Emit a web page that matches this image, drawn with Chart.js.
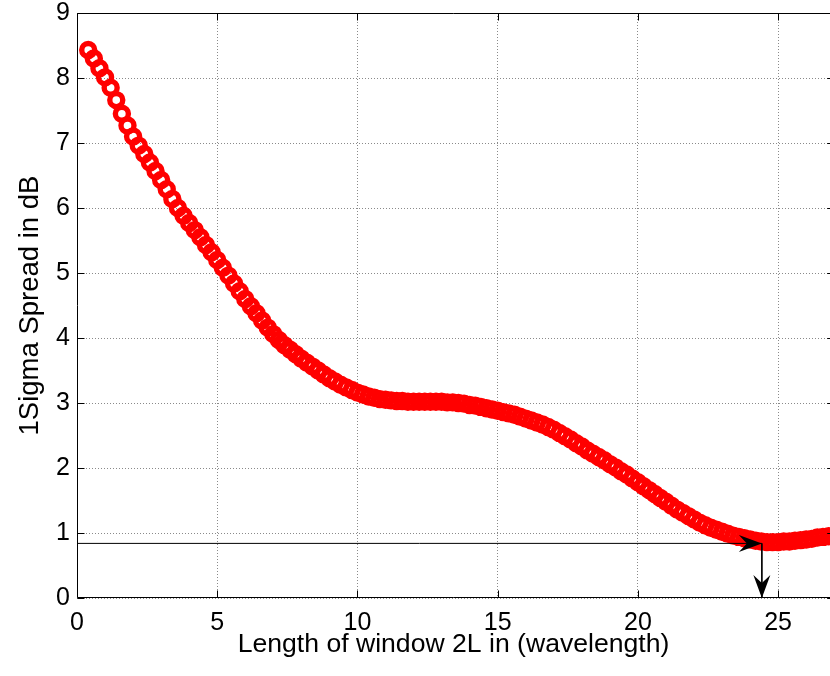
<!DOCTYPE html>
<html><head><meta charset="utf-8">
<script src="https://cdn.jsdelivr.net/npm/chart.js@4"></script>
<style>
html,body{margin:0;padding:0;background:#fff;overflow:hidden;}
canvas{display:block;}
</style></head><body>
<canvas id="c" width="830" height="676"></canvas>
<script>
// window length 2L (wavelengths)
const windowLength = [
  0.4,0.6,0.8,1.0,1.2,1.4,1.6,1.8,2.0,2.2,2.4,2.6,2.8,3.0,3.2,3.4,3.6,3.8,4.0,4.2,
  4.4,4.6,4.8,5.0,5.2,5.4,5.6,5.8,6.0,6.2,6.4,6.6,6.8,7.0,7.2,7.4,7.6,7.8,8.0,8.2,
  8.4,8.6,8.8,9.0,9.2,9.4,9.6,9.8,10.0,10.2,10.4,10.6,10.8,11.0,11.2,11.4,11.6,11.8,12.0,12.2,
  12.4,12.6,12.8,13.0,13.2,13.4,13.6,13.8,14.0,14.2,14.4,14.6,14.8,15.0,15.2,15.4,15.6,15.8,16.0,16.2,
  16.4,16.6,16.8,17.0,17.2,17.4,17.6,17.8,18.0,18.2,18.4,18.6,18.8,19.0,19.2,19.4,19.6,19.8,20.0,20.2,
  20.4,20.6,20.8,21.0,21.2,21.4,21.6,21.8,22.0,22.2,22.4,22.6,22.8,23.0,23.2,23.4,23.6,23.8,24.0,24.2,
  24.4,24.6,24.8,25.0,25.2,25.4,25.6,25.8,26.0,26.2,26.4,26.6,26.8,27.0
];
// 1-sigma spread (dB)
const sigmaSpread = [
  8.43,8.30,8.15,8.01,7.85,7.66,7.45,7.27,7.10,6.96,6.83,6.70,6.57,6.43,6.29,6.14,6.00,5.88,5.77,5.66,
  5.55,5.43,5.32,5.20,5.08,4.96,4.84,4.72,4.60,4.49,4.38,4.27,4.16,4.06,3.97,3.89,3.82,3.75,3.68,3.62,
  3.56,3.50,3.44,3.38,3.33,3.28,3.24,3.20,3.16,3.13,3.10,3.08,3.06,3.05,3.04,3.03,3.03,3.02,3.02,3.02,
  3.02,3.02,3.02,3.02,3.01,3.01,3.00,2.99,2.97,2.96,2.94,2.92,2.90,2.88,2.86,2.84,2.82,2.79,2.76,2.73,
  2.70,2.67,2.63,2.59,2.54,2.49,2.44,2.38,2.33,2.27,2.22,2.17,2.12,2.06,2.01,1.95,1.90,1.84,1.78,1.72,
  1.66,1.60,1.54,1.48,1.42,1.36,1.31,1.26,1.21,1.16,1.12,1.08,1.05,1.02,0.99,0.96,0.94,0.92,0.90,0.88,
  0.87,0.86,0.86,0.86,0.87,0.87,0.88,0.89,0.90,0.91,0.93,0.94,0.95,0.96
];
const xTicks = [0,5,10,15,20,25];
const yTicks = [0,1,2,3,4,5,6,7,8,9];
const xRange = [0, 26.85];   // visible part of the axis (figure is cropped on the right)
const xAxisEnd = 27;         // where the (cropped) right axis line sits
const yRange = [0, 9];
// optimum marker: horizontal arrow at level, vertical arrow down to axis
const optLength = 24.42;
const optLevel = 0.84;
const hArrowX = [0, optLength];
const hArrowY = [optLevel, optLevel];
const vArrowX = [optLength, optLength];
const vArrowY = [optLevel, 0];

const FONT = '"Liberation Sans", Arial, Helvetica, sans-serif';

const axesPlugin = {
  id: 'matlabAxes',
  afterDatasetsDraw(chart) {
    const {ctx, chartArea: a, scales: {x, y}} = chart;
    ctx.save();
    ctx.strokeStyle = '#000';
    ctx.lineWidth = 1;
    const L = Math.round(a.left) + 0.5, R = a.right;
    const T = Math.round(a.top) + 0.5, B = Math.round(a.bottom) - 0.5;
    const RA = x.getPixelForValue(xAxisEnd);
    ctx.beginPath();
    ctx.moveTo(R, T); ctx.lineTo(L, T); ctx.lineTo(L, B); ctx.lineTo(R, B);
    ctx.stroke();
    const tl = 7;
    ctx.beginPath();
    xTicks.forEach(v => {
      const px = Math.round(x.getPixelForValue(v)) + 0.5;
      ctx.moveTo(px, B); ctx.lineTo(px, B - tl);
      ctx.moveTo(px, T); ctx.lineTo(px, T + tl);
    });
    yTicks.forEach(v => {
      const py = Math.round(y.getPixelForValue(v)) + 0.5;
      ctx.moveTo(L, py); ctx.lineTo(L + tl, py);
      ctx.moveTo(RA, py); ctx.lineTo(RA - tl, py);
    });
    ctx.stroke();
    // arrow heads
    const head = (tx, ty, ang) => {
      const len = 23, w = 8.5, notch = 15;
      ctx.save();
      ctx.translate(tx, ty);
      ctx.rotate(ang);
      ctx.beginPath();
      ctx.moveTo(0, 0);
      ctx.lineTo(-len, -w);
      ctx.lineTo(-notch, 0);
      ctx.lineTo(-len, w);
      ctx.closePath();
      ctx.fillStyle = '#000';
      ctx.fill();
      ctx.restore();
    };
    head(x.getPixelForValue(hArrowX[1]), y.getPixelForValue(hArrowY[1]), 0);
    head(x.getPixelForValue(vArrowX[1]), y.getPixelForValue(vArrowY[1]), Math.PI / 2);
    ctx.restore();
  }
};

new Chart(document.getElementById('c'), {
  type: 'scatter',
  data: {
    datasets: [
      {
        data: hArrowX.map((v, i) => ({x: v, y: hArrowY[i]})),
        showLine: true, borderColor: '#000', borderWidth: 1, pointRadius: 0, fill: false
      },
      {
        data: vArrowX.map((v, i) => ({x: v, y: vArrowY[i]})),
        showLine: true, borderColor: '#000', borderWidth: 1, pointRadius: 0, fill: false
      },
      {
        data: windowLength.map((v, i) => ({x: v, y: sigmaSpread[i]})),
        showLine: false,
        pointStyle: 'circle',
        pointRadius: 6.5,
        pointBorderWidth: 5.4,
        pointBorderColor: '#ff0000',
        pointBackgroundColor: 'rgba(0,0,0,0)',
        pointHoverRadius: 6.5
      }
    ]
  },
  options: {
    responsive: false,
    animation: false,
    events: [],
    layout: {autoPadding: false, padding: {top: 13, right: 0, left: 0, bottom: 0}},
    plugins: {legend: {display: false}, tooltip: {enabled: false}},
    scales: {
      x: {
        type: 'linear',
        min: xRange[0], max: xRange[1],
        afterBuildTicks: s => { s.ticks = xTicks.map(v => ({value: v})); },
        afterFit: s => { s.height = 78; s.paddingLeft = 0; s.paddingRight = 0; },
        ticks: {font: {family: FONT, size: 25}, color: '#000', padding: 10, maxRotation: 0, autoSkip: false},
        grid: {color: '#8a8a8a', lineWidth: 1, drawTicks: false},
        border: {display: false, dash: [1, 2]},
        title: {display: true, text: 'Length of window 2L in (wavelength)', color: '#000',
                font: {family: FONT, size: 26.6}, padding: {top: 0, bottom: 15}}
      },
      y: {
        type: 'linear',
        min: yRange[0], max: yRange[1],
        afterBuildTicks: s => { s.ticks = yTicks.map(v => ({value: v})); },
        afterFit: s => { s.width = 77; s.paddingTop = 0; s.paddingBottom = 0; },
        ticks: {font: {family: FONT, size: 25}, color: '#000', padding: 7, autoSkip: false},
        grid: {color: '#8a8a8a', lineWidth: 1, drawTicks: false},
        border: {display: false, dash: [1, 2]},
        title: {display: true, text: '1Sigma Spread in dB', color: '#000',
                font: {family: FONT, size: 27.5}, padding: {top: 13.5, bottom: 0}}
      }
    }
  },
  plugins: [axesPlugin]
});
</script>
</body></html>
